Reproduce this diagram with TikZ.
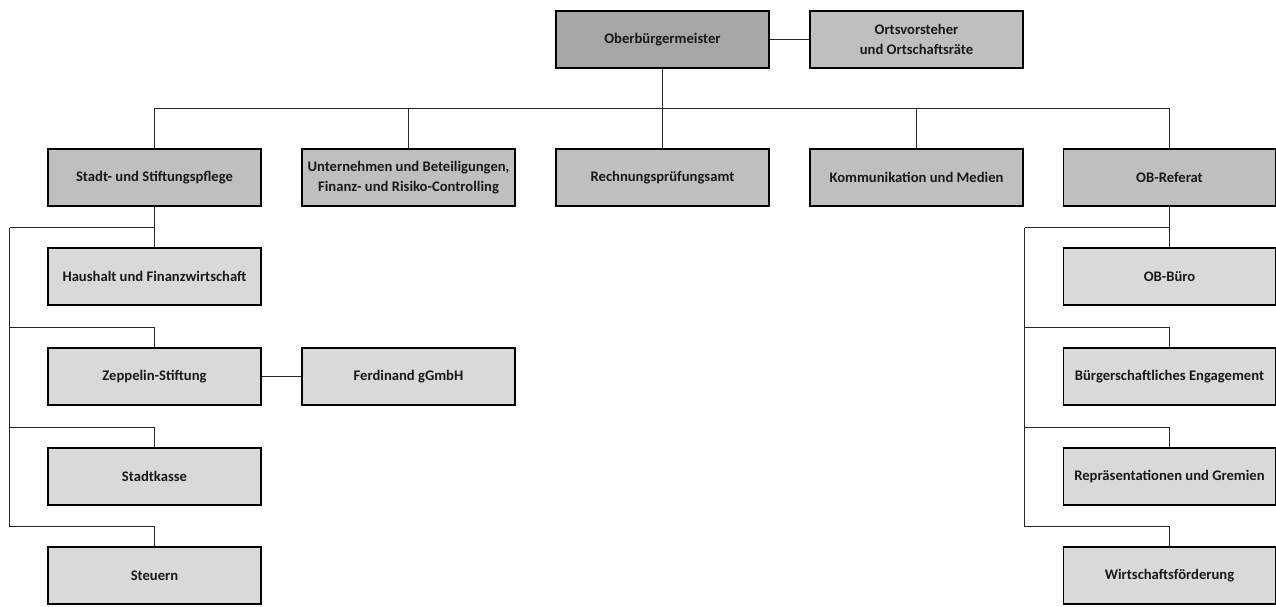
\documentclass[tikz,border=0pt]{standalone}
\usepackage{fontspec}
\setmainfont{Carlito}
\definecolor{top_c}{HTML}{A6A6A6}
\definecolor{lev_1}{HTML}{BFBFBF}
\definecolor{lev_2}{HTML}{D9D9D9}
\usepackage{tikz}
\usetikzlibrary{calc,
		positioning,
		shadows}

\begin{document}
\begin{tikzpicture}[
			x=0.025cm, y=-0.025cm,
			unit/.style = {draw, line width=1.4pt, minimum width=5.3cm, minimum height=1.43cm,
				align=center, font=\fontsize{10.4}{14}\selectfont\bfseries, text=black!90,
				drop shadow={shadow xshift=0.7pt, shadow yshift=-0.7pt, fill=black!40, opacity=1}},
			chief/.style = {unit, fill=top_c},
			dept/.style = {unit, fill=lev_1},
			sub/.style = {unit, fill=lev_2},
			link/.style = {draw=black!85, line width=0.8pt},
			]
			\useasboundingbox (0,0) rectangle (1276,606);
			% top
			\node[chief] (obm) at (662.5,39.5) {Oberbürgermeister};
			\node[dept] (ortsv) at (916.5,39.5) {Ortsvorsteher\\und Ortschaftsräte};
			% first level
			\node[dept] (stadt) at (154.5,177.5) {Stadt- und Stiftungspflege};
			\node[dept] (beteil) at (408.5,177.5) {Unternehmen und Beteiligungen,\\Finanz- und Risiko-Controlling};
			\node[dept] (rpa) at (662.5,177.5) {Rechnungsprüfungsamt};
			\node[dept] (komm) at (916.5,177.5) {Kommunikation und Medien};
			\node[dept] (obref) at (1169.5,177.5) {OB-Referat};
			% left column
			\node[sub] (haush) at (154.5,276.5) {Haushalt und Finanzwirtschaft};
			\node[sub] (zepp) at (154.5,376.5) {Zeppelin-Stiftung};
			\node[sub] (ferd) at (408.5,376.5) {Ferdinand gGmbH};
			\node[sub] (kasse) at (154.5,476.5) {Stadtkasse};
			\node[sub] (steuer) at (154.5,575.5) {Steuern};
			% right column
			\node[sub] (obbuero) at (1169.5,276.5) {OB-Büro};
			\node[sub] (engage) at (1169.5,376.5) {Bürgerschaftliches Engagement};
			\node[sub] (repr) at (1169.5,476.5) {Repräsentationen und Gremien};
			\node[sub] (wifoe) at (1169.5,575.5) {Wirtschaftsförderung};
			% bends
			\coordinate (bus) at (662.5,108.5);
			\coordinate (lt) at (9.5,227.5);
			\coordinate (lb) at (9.5,526.5);
			\coordinate (rt) at (1024.5,227.5);
			\coordinate (rb) at (1024.5,526.5);
			% edges
			\path[link]
			(obm) -- (ortsv)
			(obm) -- (rpa)
			(stadt.north) |- (bus) -| (obref.north)
			(beteil.north) -- (beteil.north |- bus)
			(komm.north) -- (komm.north |- bus)
			(stadt) -- (haush)
			(zepp) -- (ferd)
			(obref) -- (obbuero)
			(lt) -- (lb)
			(rt) -- (rb)
			(haush.north) |- (lt)
			(obbuero.north) |- (rt)
			;
			\foreach \n in {zepp,kasse,steuer}
				\draw[link] (\n.north) -- ++(0,-19.5) -| (lb);
			\foreach \n in {engage,repr,wifoe}
				\draw[link] (\n.north) -- ++(0,-19.5) -| (rb);
		\end{tikzpicture}
\end{document}
